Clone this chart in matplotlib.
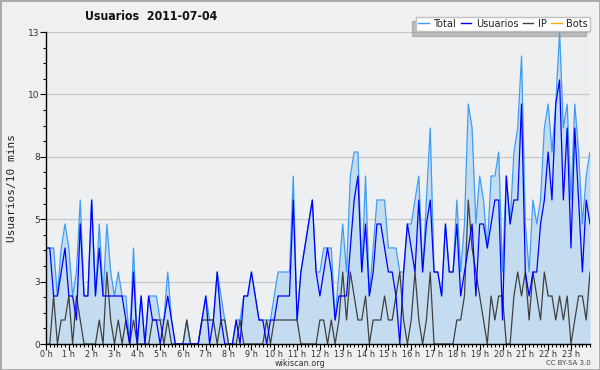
import numpy as np
import matplotlib
matplotlib.use("Agg")
import matplotlib.pyplot as plt
from matplotlib.patches import Rectangle

# valeurs par tranche de 10 minutes (144 points)
total = [4, 4, 4, 2, 4, 5, 4, 2, 3, 6, 2, 2, 6, 2, 5, 2, 5, 3, 2, 3, 2, 2, 0, 4,
         0, 2, 0, 2, 2, 2, 1, 1, 3, 1, 0, 0, 0, 1, 0, 0, 0, 1, 2, 1, 1, 3, 2, 1,
         0, 0, 1, 1, 2, 2, 3, 2, 1, 1, 1, 1, 2, 3, 3, 3, 3, 7, 1, 3, 4, 5, 6, 3,
         3, 4, 4, 4, 1, 3, 5, 3, 7, 8, 8, 3, 7, 2, 4, 6, 6, 6, 4, 4, 4, 3, 3, 5,
         5, 6, 7, 3, 6, 9, 3, 3, 2, 5, 3, 3, 6, 3, 5, 10, 9, 5, 7, 6, 4, 7, 7, 8,
         3, 7, 5, 8, 9, 12, 5, 3, 6, 5, 6, 9, 10, 8, 10, 13, 9, 10, 6, 10, 8, 5, 7, 8]
usuarios = [4, 4, 2, 2, 3, 4, 2, 2, 1, 5, 2, 2, 6, 2, 4, 2, 2, 2, 2, 2, 2, 1, 0, 3,
            0, 2, 0, 2, 1, 1, 0, 1, 2, 1, 0, 0, 0, 0, 0, 0, 0, 1, 2, 0, 1, 3, 1, 0,
            0, 0, 1, 0, 2, 2, 3, 2, 1, 1, 0, 1, 1, 2, 2, 2, 2, 6, 1, 3, 4, 5, 6, 3,
            2, 3, 4, 3, 1, 2, 2, 2, 4, 6, 7, 3, 5, 2, 3, 5, 5, 4, 3, 3, 2, 0, 3, 5,
            4, 3, 6, 3, 5, 6, 3, 3, 2, 5, 3, 3, 5, 2, 3, 4, 5, 2, 5, 5, 4, 5, 6, 6,
            1, 7, 5, 6, 6, 10, 3, 2, 3, 3, 5, 6, 8, 6, 10, 11, 6, 9, 4, 9, 6, 3, 6, 5]
ip = [0, 0, 2, 0, 1, 1, 2, 0, 2, 1, 0, 0, 0, 0, 1, 0, 3, 1, 0, 1, 0, 1, 0, 1,
      0, 0, 0, 0, 1, 1, 1, 0, 1, 0, 0, 0, 0, 1, 0, 0, 0, 1, 1, 1, 1, 0, 1, 1,
      0, 0, 0, 1, 0, 0, 0, 0, 0, 0, 1, 0, 1, 1, 1, 1, 1, 1, 1, 0, 0, 0, 0, 0,
      1, 1, 0, 1, 0, 1, 3, 1, 3, 2, 1, 1, 2, 0, 1, 1, 1, 2, 1, 1, 2, 3, 1, 0,
      1, 3, 1, 0, 1, 3, 0, 0, 0, 0, 0, 0, 1, 1, 2, 6, 4, 3, 2, 1, 0, 2, 1, 2,
      2, 0, 0, 2, 3, 2, 3, 1, 3, 2, 1, 3, 2, 2, 1, 2, 1, 2, 0, 1, 2, 2, 1, 3]
bots = [0] * 144

hours = [f"{h} h" for h in range(24)]
y_ticks = [0, 2.6, 5.2, 7.8, 10.4, 13]
y_labels = ["0", "3", "5", "8", "10", "13"]

x = np.arange(len(total)) / 6.0

fig = plt.figure(figsize=(6, 3.7), dpi=100, facecolor="#f0f0f0")
ax = fig.add_axes([46 / 600, 26 / 370, 544 / 600, 312 / 370])
ax.set_facecolor("#eeeff1")

ax.fill_between(x, total, color="#c4dcf0", lw=0, zorder=1)
ax.plot(x, bots, color="#ffa500", lw=0.8, zorder=1.5)
ax.plot(x, total, color="#3d9df5", lw=0.9, zorder=2)
ax.plot(x, ip, color="#404040", lw=0.9, zorder=3)
ax.plot(x, usuarios, color="#0000ff", lw=0.9, zorder=4)

ax.set_xlim(0, x[-1])
ax.set_ylim(0, 13)

# axes
for s in ["top", "right"]:
    ax.spines[s].set_visible(False)
for s in ["left", "bottom"]:
    ax.spines[s].set_color("black")
    ax.spines[s].set_linewidth(1)
    ax.spines[s].set_zorder(6)

ax.set_yticks(y_ticks)
ax.set_yticklabels(y_labels)
ax.set_yticks(np.arange(0, 13.01, 0.65), minor=True)
ax.set_xticks(range(24))
ax.set_xticklabels(hours, fontstretch="condensed")
ax.set_xticks(np.arange(0, x[-1] + 0.01, 1 / 6), minor=True)

ax.tick_params(which="major", length=4, width=0.8, direction="out",
               labelsize=6.5, colors="#333333", pad=0.5)
ax.tick_params(which="minor", length=2.5, width=0.8, direction="out")
ax.tick_params(axis="both", which="both", color="black")

ax.grid(axis="y", which="major", color="#c8c8c8", lw=0.9, zorder=0)
ax.set_axisbelow(True)

# textes
fig.text(85 / 600, 1 - 17 / 370, "Usuarios  2011-07-04", fontsize=8.8,
         fontweight="bold", fontstretch="condensed", va="center", ha="left",
         color="#111111")
fig.text(12 / 600, 1 - 188 / 370, "Usuarios/10 mins", rotation=90,
         family="DejaVu Sans Mono", fontsize=8, va="center", ha="center",
         color="#222222")
fig.text(300 / 600, 1 - 364 / 370, "wikiscan.org", fontsize=6.5,
         fontstretch="condensed", ha="center", va="center", color="#333333")
fig.text(591 / 600, 1 - 363 / 370, "CC BY-SA 3.0", fontsize=5,
         ha="right", va="center", color="#444444")

# légende
handles = [plt.Line2D([], [], color=c, lw=1) for c in
           ["#3d9df5", "#0000ff", "#404040", "#ffa500"]]
leg = fig.legend(handles, ["Total", "Usuarios", "IP", "Bots"], ncol=4,
                 loc="upper right", bbox_to_anchor=(590 / 600, 1 - 17 / 370),
                 handlelength=1.0, handletextpad=0.4,
                 columnspacing=0.4, borderpad=0.2, borderaxespad=0,
                 fancybox=False, framealpha=1, edgecolor="#c0c0c0",
                 shadow={"ox": -3, "oy": -3, "shade": 0.45},
                 prop={"size": 7.8, "stretch": "condensed"})
leg.get_frame().set_linewidth(1)
for t in leg.get_texts():
    t.set_color("#222222")

fig.patches.append(Rectangle((0, 0), 1, 1, transform=fig.transFigure,
                             fill=False, edgecolor="#a8a8a8", lw=2))

fig.savefig("out.png", dpi=100, facecolor=fig.get_facecolor())
